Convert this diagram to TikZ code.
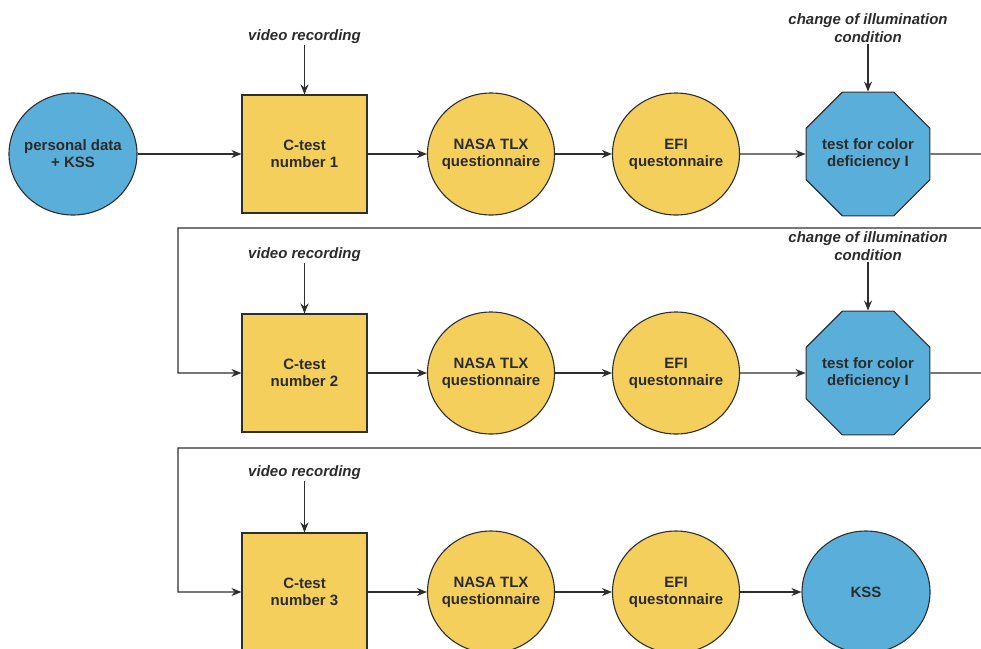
\documentclass[tikz,border=0pt]{standalone}
\usepackage{fontspec}
\setmainfont{Liberation Sans}
\usetikzlibrary{shapes.geometric,arrows.meta}
\definecolor{cblue}{HTML}{5AAFDA}
\definecolor{cyel}{HTML}{F5CF5B}
\definecolor{ctext}{HTML}{2B2B2B}
\definecolor{cline}{HTML}{2E2E2E}
\begin{document}
\begin{tikzpicture}[x=1pt,y=1pt,
 base/.style={draw=cline, line width=1.1pt, inner sep=0pt, align=center, text=ctext, font=\fontsize{15}{17}\selectfont\bfseries},
 box/.style={base, rectangle, fill=cyel, minimum width=125pt, minimum height=118pt},
 yc/.style={base, ellipse, fill=cyel, inner xsep=-20pt, inner ysep=-10pt, minimum width=127pt, minimum height=122pt},
 bc/.style={base, ellipse, fill=cblue, inner xsep=-20pt, inner ysep=-10pt, minimum width=128pt, minimum height=122pt},
 oct/.style={base, regular polygon, regular polygon sides=8, fill=cblue, inner sep=-20pt, minimum size=134pt},
 lbl/.style={font=\fontsize{15}{18}\selectfont\bfseries\itshape, align=center, text=ctext, inner sep=1pt},
 arr/.style={-{Stealth[length=10pt,width=8pt]}, line width=1.1pt, draw=cline}
]
\useasboundingbox (0,0) rectangle (981,-648);
\clip (0,0) rectangle (981,-648);
% row 1
\node[bc]  (p0) at (73,-154)    {personal data\\+ KSS};
\node[box] (s1) at (304.5,-154) {C-test\\number 1};
\node[yc]  (n1) at (491,-154)   {NASA TLX\\questionnaire};
\node[yc]  (f1) at (676,-154)   {EFI\\questonnaire};
\node[oct] (o1) at (868,-154)   {test for color\\deficiency I};
\node[lbl] (v1) at (304.5,-37)  {video recording};
\node[lbl] (c1) at (868,-28)    {change of illumination\\condition};
% row 2
\node[box] (s2) at (304.5,-373) {C-test\\number 2};
\node[yc]  (n2) at (491,-373)   {NASA TLX\\questionnaire};
\node[yc]  (f2) at (676,-373)   {EFI\\questonnaire};
\node[oct] (o2) at (868,-373)   {test for color\\deficiency I};
\node[lbl] (v2) at (304.5,-255) {video recording};
\node[lbl] (c2) at (868,-246)   {change of illumination\\condition};
% row 3
\node[box] (s3) at (304.5,-592) {C-test\\number 3};
\node[yc]  (n3) at (491,-592)   {NASA TLX\\questionnaire};
\node[yc]  (f3) at (676,-592)   {EFI\\questonnaire};
\node[bc]  (k3) at (866,-592)   {KSS};
\node[lbl] (v3) at (304.5,-473) {video recording};
% helper coordinates
\coordinate (e1) at (1000,-154);
\coordinate (t1) at (178,-228);
\coordinate (e2) at (1000,-373);
\coordinate (t2) at (178,-448);
% connectors
\draw[arr] (p0) -- (s1);
\draw[arr] (s1) -- (n1);
\draw[arr] (n1) -- (f1);
\draw[arr] (f1) -- (o1);
\draw[arr] (v1) -- (s1);
\draw[arr] (c1) -- (o1);
\draw[arr] (o1.east) -- (e1) |- (t1) |- (s2.west);
\draw[arr] (s2) -- (n2);
\draw[arr] (n2) -- (f2);
\draw[arr] (f2) -- (o2);
\draw[arr] (v2) -- (s2);
\draw[arr] (c2) -- (o2);
\draw[arr] (o2.east) -- (e2) |- (t2) |- (s3.west);
\draw[arr] (s3) -- (n3);
\draw[arr] (n3) -- (f3);
\draw[arr] (f3) -- (k3);
\draw[arr] (v3) -- (s3);
\end{tikzpicture}
\end{document}
